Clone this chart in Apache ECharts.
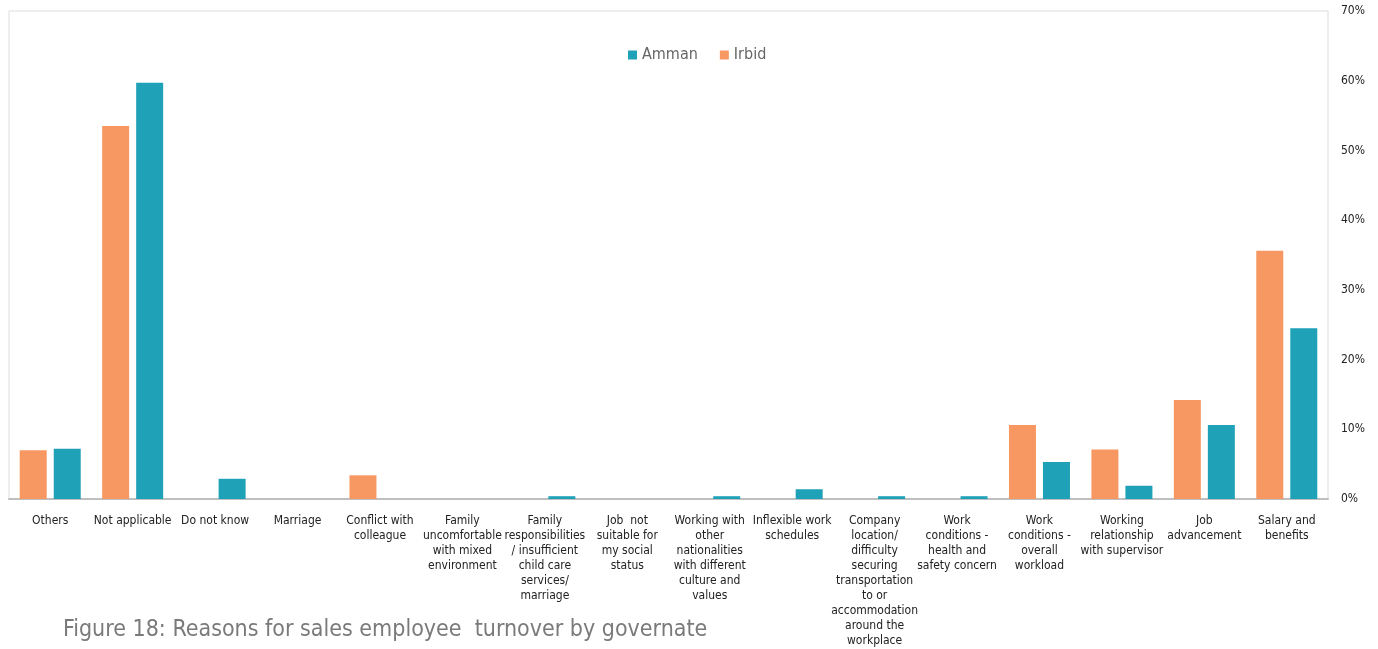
<!DOCTYPE html>
<html>
<head>
<meta charset="utf-8">
<script src="https://cdn.jsdelivr.net/npm/echarts@6/dist/echarts.min.js"></script>
<style>
  html, body { margin: 0; padding: 0; background: #fff; }
  #chart { width: 1378px; height: 649px; }
</style>
</head>
<body>
<div id="chart"></div>
<script>
// Turnover reasons, wrapped as they appear under each bar pair
const categories = [
  'Others',
  'Not applicable',
  'Do not know',
  'Marriage',
  'Conflict with\ncolleague',
  'Family\nuncomfortable\nwith mixed\nenvironment',
  'Family\nresponsibilities\n/ insufficient\nchild care\nservices/\nmarriage',
  'Job  not\nsuitable for\nmy social\nstatus',
  'Working with\nother\nnationalities\nwith different\nculture and\nvalues',
  'Inflexible work\nschedules',
  'Company\nlocation/\ndifficulty\nsecuring\ntransportation\nto or\naccommodation\naround the\nworkplace',
  'Work\nconditions -\nhealth and\nsafety concern',
  'Work\nconditions -\noverall\nworkload',
  'Working\nrelationship\nwith supervisor',
  'Job\nadvancement',
  'Salary and\nbenefits'
];

// Share of respondents (%) per governate
const irbid = [7.0, 53.5, 0, 0, 3.4, 0, 0, 0, 0, 0, 0, 0, 10.6, 7.1, 14.2, 35.6];
const amman = [7.2, 59.7, 2.9, 0, 0, 0, 0.4, 0, 0.4, 1.4, 0.4, 0.4, 5.3, 1.9, 10.6, 24.5];

const yTicks = { min: 0, max: 70, interval: 10 };

const titleText = 'Figure 18: Reasons for sales employee  turnover by governate';

const FONT = '"Liberation Sans Narrow", "DejaVu Sans Condensed", sans-serif';
const TEAL = '#1fa1b8';
const ORANGE = '#f79862';

const chart = echarts.init(document.getElementById('chart'));
chart.setOption({
  animation: false,
  textStyle: { fontFamily: FONT },
  title: {
    text: titleText,
    left: 58,
    top: 614,
    textStyle: { fontFamily: FONT, fontSize: 23, fontWeight: 'normal', color: '#7a7a7a' }
  },
  legend: {
    data: ['Amman', 'Irbid'],
    top: 42,
    left: 623,
    itemWidth: 9,
    itemHeight: 9,
    itemGap: 22,
    icon: 'rect',
    textStyle: { fontFamily: FONT, fontSize: 16, color: '#666' }
  },
  grid: {
    left: 9,
    right: 50,
    top: 11,
    bottom: 150,
    show: true,
    borderColor: '#dcdcdc',
    borderWidth: 1
  },
  xAxis: {
    type: 'category',
    data: categories,
    axisLine: { lineStyle: { color: '#bfbfbf', width: 2 } },
    axisTick: { show: false },
    axisLabel: {
      interval: 0,
      margin: 14,
      fontFamily: FONT,
      fontSize: 12,
      lineHeight: 15,
      color: '#222',
      align: 'center'
    }
  },
  yAxis: {
    type: 'value',
    position: 'right',
    min: yTicks.min,
    max: yTicks.max,
    interval: yTicks.interval,
    splitLine: { show: false },
    axisLine: { show: false },
    axisTick: { show: false },
    axisLabel: {
      formatter: '{value}%',
      margin: 13,
      fontFamily: FONT,
      fontSize: 12,
      color: '#222'
    }
  },
  series: [
    {
      name: 'Irbid',
      type: 'bar',
      data: irbid,
      barWidth: 27,
      barGap: '26%',
      itemStyle: { color: ORANGE }
    },
    {
      name: 'Amman',
      type: 'bar',
      data: amman,
      barWidth: 27,
      barGap: '26%',
      itemStyle: { color: TEAL }
    }
  ]
});
</script>
</body>
</html>
